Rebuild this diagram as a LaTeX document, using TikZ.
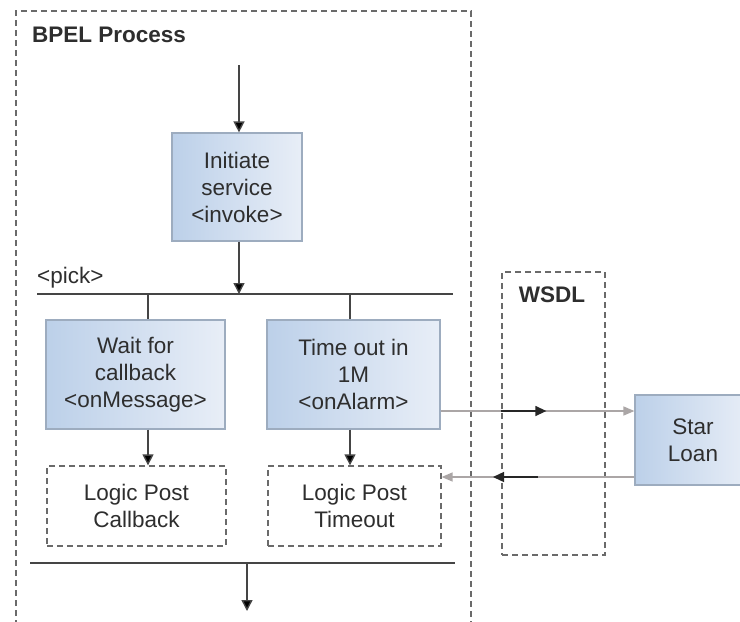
\documentclass[tikz,border=0pt]{standalone}
\usepackage{fontspec}
\setmainfont{Liberation Sans}
\usetikzlibrary{arrows.meta,calc}
\definecolor{boxA}{HTML}{BCD0E9}
\definecolor{boxB}{HTML}{E8EEF7}
\definecolor{boxline}{HTML}{9DACBF}
\definecolor{dashgrey}{HTML}{6A6A6A}
\definecolor{linegrey}{HTML}{454545}
\definecolor{flowgrey}{HTML}{ABA6A6}
\definecolor{txt}{HTML}{2E2E2E}
\tikzset{
  lbl/.style={font=\fontsize{22.5}{27}\selectfont, text=txt, align=center},
  activity/.style={lbl, draw=boxline, line width=1.2pt, left color=boxA, right color=boxB, inner sep=0pt},
  logicbox/.style={lbl, draw=dashgrey, line width=1.3pt, dash pattern=on 6pt off 4pt, inner sep=0pt},
  dashframe/.style={draw=dashgrey, line width=1.3pt, dash pattern=on 6pt off 4pt},
  title/.style={font=\fontsize{22.5}{27}\selectfont\bfseries, text=txt, inner sep=0pt},
  bar/.style={draw=linegrey, line width=1.4pt},
  arrowline/.style={draw=linegrey, line width=1.4pt, -{Triangle[length=11pt,width=11pt,fill=black]}},
  flowline/.style={draw=flowgrey, line width=1.4pt, -{Triangle[length=11pt,width=9pt,fill=flowgrey]}},
  blackflow/.style={draw=black!85, line width=1.4pt, -{Triangle[length=11pt,width=10pt]}}
}
\begin{document}
\begin{tikzpicture}[x=1pt,y=-1pt]
\useasboundingbox (0,0) rectangle (740,622);
\clip (0,0) rectangle (740,622);
\fill[white] (0,0) rectangle (740,622);

% BPEL frame
\coordinate (fBL) at (16,626);
\coordinate (fTL) at (16,11);
\coordinate (fTR) at (471,11);
\coordinate (fBR) at (471,626);
\draw[dashframe] (fBL) -- (fTL) -- (fTR) -- (fBR);
\node[title, anchor=west] (bpel) at (32,35) {BPEL Process};

% nodes
\node[activity, minimum width=130pt, minimum height=108pt] (init) at (237,187) {Initiate\\service\\<invoke>};
\node[activity, minimum width=179pt, minimum height=109pt] (wait) at (135.5,374.5) {Wait for\\callback\\<onMessage>};
\node[activity, minimum width=173pt, minimum height=109pt] (timeout) at (353.5,374.5) {Time out in\\1M\\<onAlarm>};
\node[logicbox, minimum width=179pt, minimum height=80pt] (lpc) at (136.5,506) {Logic Post\\Callback};
\node[logicbox, minimum width=173pt, minimum height=80pt] (lpt) at (354.5,506) {Logic Post\\Timeout};
\node[logicbox, minimum width=103pt, minimum height=283pt] (wsdl) at (553.5,413.5) {};
\node[title] (wsdlt) at (552,295) {WSDL};
\node[activity, minimum width=116pt, minimum height=90pt] (star) at (693,440) {Star\\Loan};

% pick
\node[lbl, anchor=west, inner sep=0pt] (pick) at (37,278) {<pick>};
\coordinate (pickL) at (37,294);
\coordinate (pickR) at (453,294);
\draw[bar] (pickL) -- (pickR);
\coordinate (start) at (239,65);
\draw[arrowline] (start) -- (start |- init.north);
\draw[arrowline] (start |- init.south) -- (start |- pickL);
\coordinate (w1) at (148,294);
\coordinate (t1) at (350,294);
\draw[bar] (w1) -- (w1 |- wait.north);
\draw[bar] (t1) -- (t1 |- timeout.north);
\draw[arrowline] (w1 |- wait.south) -- (w1 |- lpc.north);
\draw[arrowline] (t1 |- timeout.south) -- (t1 |- lpt.north);

% bottom bar
\coordinate (botL) at (30,563);
\coordinate (botR) at (455,563);
\draw[bar] (botL) -- (botR);
\coordinate (bstart) at (247,563);
\coordinate (bend) at (247,611);
\draw[arrowline] (bstart) -- (bend);

% flows to/from Star Loan
\coordinate (fy) at (0,411);
\coordinate (ry) at (0,477);
\draw[flowline] (timeout.east |- fy) -- (star.west |- fy);
\draw[blackflow] (wsdl.west |- fy) -- ++(45,0);
\draw[flowline] (star.west |- ry) -- (lpt.east |- ry);
\coordinate (rb) at (538,477);
\draw[blackflow] (rb) -- ++(-45,0);
\end{tikzpicture}
\end{document}
